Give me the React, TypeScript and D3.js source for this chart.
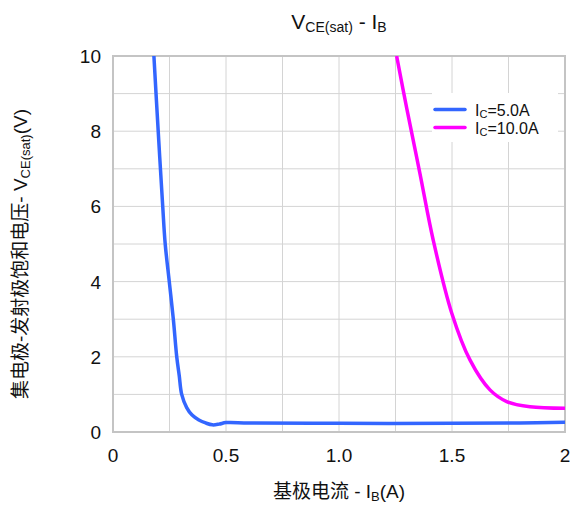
import React from "react";
import * as d3 from "d3";

// IB (A) vs VCE(sat) (V)
const ic5IB = [0.181, 0.2, 0.22, 0.231, 0.249, 0.267, 0.282, 0.293, 0.304, 0.326, 0.35, 0.38, 0.41, 0.44, 0.47, 0.5, 0.6, 1.0, 1.5, 1.8, 2.0];
const ic5V = [10, 8, 6, 5, 4, 3, 2, 1.5, 1.0, 0.65, 0.45, 0.32, 0.24, 0.19, 0.21, 0.25, 0.24, 0.23, 0.23, 0.24, 0.26];
const ic10IB = [1.255, 1.3, 1.358, 1.417, 1.499, 1.58, 1.668, 1.742, 1.845, 2.0];
const ic10V = [10, 8.6, 6.88, 5.1, 3.16, 1.91, 1.12, 0.81, 0.67, 0.63];

const xTicks = [0, 0.5, 1.0, 1.5, 2];
const xTickLabels = ["0", "0.5", "1.0", "1.5", "2"];
const yTicks = [0, 2, 4, 6, 8, 10];
const seriesNames = ["5.0A", "10.0A"];
const seriesColors = ["#3366ff", "#ff00ff"];

const W = 571;
const H = 507;
const margin = { top: 56, right: 6, bottom: 75, left: 113 };

const latin = "'Liberation Sans', Arial, sans-serif";
const cjk = "'Liberation Sans', 'Noto Sans CJK SC', sans-serif";

const App = () => {
  const x = d3.scaleLinear().domain([0, 2]).range([margin.left, W - margin.right]);
  const y = d3.scaleLinear().domain([0, 10]).range([H - margin.bottom, margin.top]);

  const line = d3
    .line<[number, number]>()
    .x((d) => x(d[0]))
    .y((d) => y(d[1]))
    .curve(d3.curveCatmullRom.alpha(0.5));

  const series = [
    ic5IB.map((v, i) => [v, ic5V[i]] as [number, number]),
    ic10IB.map((v, i) => [v, ic10V[i]] as [number, number]),
  ];

  const xGrid = d3.range(0, 2.001, 0.25);
  const yGrid = d3.range(0, 10.001, 1);

  const x0 = x(0), x1 = x(2), y0 = y(0), y1 = y(10);

  return (
    <svg width={W} height={H} style={{ position: "absolute", left: 0, top: 0 }}>
      <defs>
        <clipPath id="plot">
          <rect x={x0} y={y1} width={x1 - x0} height={y0 - y1} />
        </clipPath>
      </defs>

      {/* grid */}
      {xGrid.map((g) => (
        <line key={"gx" + g} x1={x(g)} x2={x(g)} y1={y1} y2={y0} stroke="#d4d4d4" strokeWidth={1} />
      ))}
      {yGrid.map((g) => (
        <line key={"gy" + g} x1={x0} x2={x1} y1={y(g)} y2={y(g)} stroke="#d4d4d4" strokeWidth={1} />
      ))}
      <rect x={x0} y={y1} width={x1 - x0} height={y0 - y1} fill="none" stroke="#c4c4c4" strokeWidth={2} />

      {/* legend box covers the grid */}
      <rect x={432} y={93} width={126} height={49} fill="#ffffff" />
      {seriesNames.map((n, i) => (
        <g key={n} transform={`translate(435,${109.5 + i * 18})`}>
          <line x1={0} x2={30} y1={0} y2={0} stroke={seriesColors[i]} strokeWidth={3.5} strokeLinecap="round" />
          <text x={40} y={6} fontFamily={latin} fontSize={16} fill="#111">
            I<tspan fontSize={11} dy={2}>C</tspan>
            <tspan dy={-2}>={n}</tspan>
          </text>
        </g>
      ))}

      {/* curves */}
      <g clipPath="url(#plot)">
        {series.map((s, i) => (
          <path key={i} d={line(s) ?? ""} fill="none" stroke={seriesColors[i]} strokeWidth={3.5} strokeLinejoin="round" />
        ))}
      </g>

      {/* ticks */}
      {xTicks.map((t, i) => (
        <text key={"xt" + t} x={x(t)} y={462} textAnchor="middle" fontFamily={latin} fontSize={19} fill="#111">
          {xTickLabels[i]}
        </text>
      ))}
      {yTicks.map((t) => (
        <text key={"yt" + t} x={101} y={y(t) + 7} textAnchor="end" fontFamily={latin} fontSize={19} fill="#111">
          {t}
        </text>
      ))}

      {/* title */}
      <text x={(x0 + x1) / 2} y={29} textAnchor="middle" fontFamily={latin} fontSize={21} fill="#111">
        V<tspan fontSize={14} dy={3}>CE(sat)</tspan>
        <tspan dy={-3}> - I</tspan>
        <tspan fontSize={14} dy={3}>B</tspan>
      </text>

      {/* x label */}
      <text x={(x0 + x1) / 2} y={498} textAnchor="middle" fontFamily={cjk} fontSize={19} fill="#111">
        基极电流 - I<tspan fontSize={13} dy={3}>B</tspan>
        <tspan dy={-3}>(A)</tspan>
      </text>

      {/* y label */}
      <text
        transform={`translate(27,${254}) rotate(-90)`}
        textAnchor="middle"
        fontFamily={cjk}
        fontSize={19}
        fill="#111"
      >
        集电极-发射极饱和电压- V<tspan fontSize={13} dy={3}>CE(sat)</tspan>
        <tspan dy={-3}>(V)</tspan>
      </text>
    </svg>
  );
};

export default App;
